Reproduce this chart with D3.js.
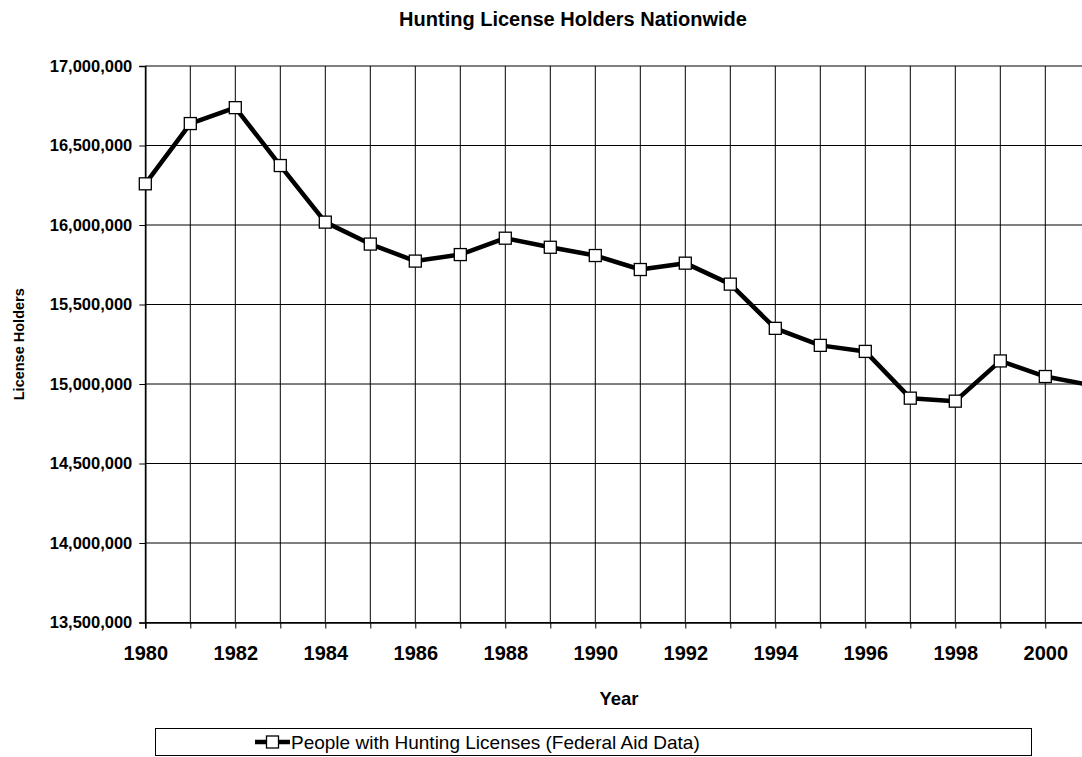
<!DOCTYPE html>
<html>
<head>
<meta charset="utf-8">
<script src="https://cdn.jsdelivr.net/npm/d3@7"></script>
<style>
  body { margin: 0; background: #fff; }
  svg { display: block; font-family: "Liberation Sans", Arial, sans-serif; }
</style>
</head>
<body>
<div id="chart"></div>
<script>
// Data
const years = [1980, 1981, 1982, 1983, 1984, 1985, 1986, 1987, 1988, 1989, 1990,
               1991, 1992, 1993, 1994, 1995, 1996, 1997, 1998, 1999, 2000, 2001];
const holders = [16259000, 16638000, 16738000, 16374000, 16018000, 15880000, 15773000,
                 15814000, 15917000, 15860000, 15808000, 15720000, 15760000, 15628000,
                 15350000, 15243000, 15205000, 14911000, 14892000, 15145000, 15047000, 14993000];
const yTicks = [13500000, 14000000, 14500000, 15000000, 15500000, 16000000, 16500000, 17000000];
const xLabelYears = [1980, 1982, 1984, 1986, 1988, 1990, 1992, 1994, 1996, 1998, 2000];
const seriesName = "People with Hunting Licenses (Federal Aid Data)";

const W = 1082, H = 757;
const margin = {top: 66, left: 145.3};
const plotBottom = 622.5;

const svg = d3.select("#chart").append("svg")
    .attr("width", W)
    .attr("height", H);

const x = d3.scaleLinear().domain([1980, 2001]).range([margin.left, margin.left + 21 * 45]);
const y = d3.scaleLinear().domain([13500000, 17000000]).range([plotBottom, margin.top]);

// title
svg.append("text")
    .attr("x", 573).attr("y", 26)
    .attr("text-anchor", "middle")
    .attr("font-size", "20px").attr("font-weight", "bold")
    .text("Hunting License Holders Nationwide");

// horizontal grid
svg.append("g").selectAll("line")
    .data(yTicks).enter()
    .append("line")
    .attr("x1", margin.left).attr("x2", W)
    .attr("y1", d => y(d)).attr("y2", d => y(d))
    .attr("stroke", "#000").attr("stroke-width", 1);

// vertical grid
svg.append("g").selectAll("line")
    .data(years).enter()
    .append("line")
    .attr("x1", d => x(d)).attr("x2", d => x(d))
    .attr("y1", margin.top).attr("y2", plotBottom)
    .attr("stroke", "#000").attr("stroke-width", 1);

// axes
const yAxis = d3.axisLeft(y).tickValues(yTicks).tickSize(6).tickPadding(7)
    .tickFormat(d3.format(","));
const gy = svg.append("g").attr("transform", "translate(" + margin.left + ",0)").call(yAxis);
gy.select(".domain").attr("stroke", "#000").attr("stroke-width", 1.5);
gy.selectAll("text").attr("font-size", "16.5px").attr("font-weight", "bold")
    .attr("font-family", "Liberation Sans, Arial, sans-serif").attr("fill", "#000");

const xAxis = d3.axisBottom(x).tickValues(years).tickSize(6).tickPadding(17)
    .tickFormat(d => xLabelYears.includes(d) ? d : "");
const gx = svg.append("g").attr("transform", "translate(0," + plotBottom + ")").call(xAxis);
gx.select(".domain").attr("stroke", "#000").attr("stroke-width", 1.5);
gx.selectAll("text").attr("font-size", "20px").attr("font-weight", "bold")
    .attr("font-family", "Liberation Sans, Arial, sans-serif").attr("fill", "#000");

// axis titles
svg.append("text")
    .attr("x", 619).attr("y", 705)
    .attr("text-anchor", "middle")
    .attr("font-size", "18.5px").attr("font-weight", "bold")
    .text("Year");

svg.append("text")
    .attr("transform", "translate(24," + ((margin.top + plotBottom) / 2) + ") rotate(-90)")
    .attr("text-anchor", "middle")
    .attr("font-size", "14.5px").attr("font-weight", "bold")
    .text("License Holders");

// the series line
svg.append("clipPath").attr("id", "clip")
    .append("rect").attr("x", 0).attr("y", 0).attr("width", W).attr("height", plotBottom + 10);

const line = d3.line().x((d, i) => x(years[i])).y(d => y(d));
const series = svg.append("g").attr("clip-path", "url(#clip)");
series.append("path")
    .datum(holders)
    .attr("fill", "none")
    .attr("stroke", "#000")
    .attr("stroke-width", 4.5)
    .attr("stroke-linejoin", "round")
    .attr("d", line);

series.selectAll("rect")
    .data(holders).enter()
    .append("rect")
    .attr("x", (d, i) => x(years[i]) - 6)
    .attr("y", d => y(d) - 6)
    .attr("width", 12).attr("height", 12)
    .attr("fill", "#fff").attr("stroke", "#000").attr("stroke-width", 1.3);

// legend
const legend = svg.append("g");
legend.append("rect")
    .attr("x", 155.5).attr("y", 728.5)
    .attr("width", 876).attr("height", 27)
    .attr("fill", "#fff").attr("stroke", "#000").attr("stroke-width", 1);
legend.append("line")
    .attr("x1", 255).attr("x2", 290).attr("y1", 742).attr("y2", 742)
    .attr("stroke", "#000").attr("stroke-width", 4.5);
legend.append("rect")
    .attr("x", 266.5).attr("y", 736).attr("width", 12).attr("height", 12)
    .attr("fill", "#fff").attr("stroke", "#000").attr("stroke-width", 1.3);
legend.append("text")
    .attr("x", 291).attr("y", 748.5)
    .attr("font-size", "19px")
    .text(seriesName);
</script>
</body>
</html>
